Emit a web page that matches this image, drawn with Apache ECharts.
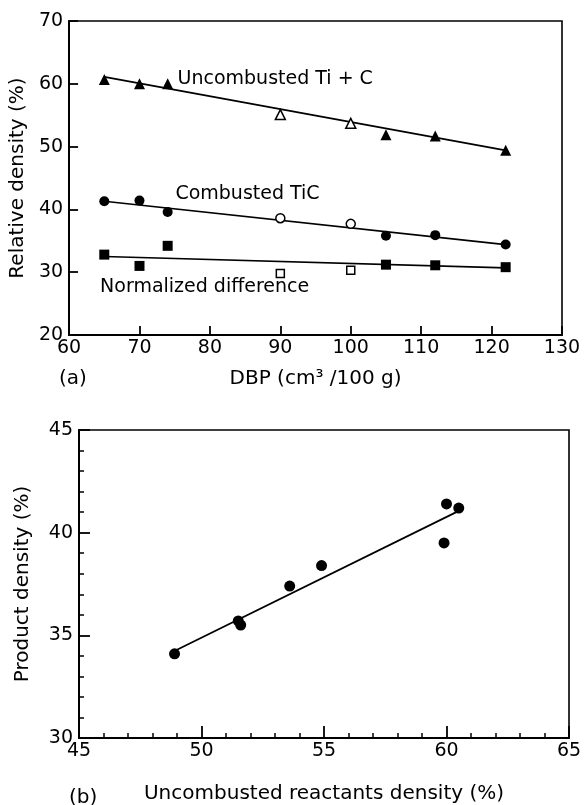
<!DOCTYPE html>
<html>
<head>
<meta charset="utf-8">
<script src="https://cdn.jsdelivr.net/npm/echarts@6/dist/echarts.min.js"></script>
<style>
  html, body { margin: 0; padding: 0; background: #fff; }
  #chart { width: 586px; height: 805px; }
</style>
</head>
<body>
<div id="chart"></div>
<script>
// (a) relative density vs DBP
var dbp = [65, 70, 74, 90, 100, 105, 112, 122];
var uncombusted = [60.7, 60.0, 60.0, 55.1, 53.7, 51.9, 51.7, 49.4];
var combusted = [41.3, 41.4, 39.6, 38.6, 37.7, 35.8, 35.9, 34.4];
var normalized = [32.8, 31.0, 34.2, 29.8, 30.3, 31.2, 31.1, 30.8];
var openDbp = [90, 100];           // points drawn with hollow symbols
var fitDbp = [65, 122];
var uncombustedFit = [61.1, 49.4];
var combustedFit = [41.3, 34.4];
var normalizedFit = [32.5, 30.7];
var noteText = ['Uncombusted Ti + C', 'Combusted TiC', 'Normalized difference'];
var noteX = [75.4, 75.1, 64.4];
var noteY = [60.8, 42.4, 27.7];
var ticksA_x = [60, 70, 80, 90, 100, 110, 120, 130];
var ticksA_y = [20, 30, 40, 50, 60, 70];

// (b) product density vs uncombusted reactants density
var reactants = [48.9, 51.5, 51.6, 53.6, 54.9, 60.0, 60.5, 59.9];
var product = [34.1, 35.7, 35.5, 37.4, 38.4, 41.4, 41.2, 39.5];
var fitReactants = [49.0, 60.4];
var fitProduct = [34.3, 41.0];
var ticksB_x = [45, 50, 55, 60, 65];
var ticksB_y = [30, 35, 40, 45];

var ink = '#000';
var font = 'DejaVu Sans';

function pairs(xs, ys, keep) {
    var out = [];
    for (var i = 0; i < xs.length; i++) {
        if (!keep || keep(xs[i])) out.push([xs[i], ys[i]]);
    }
    return out;
}
function isOpen(x) { return openDbp.indexOf(x) >= 0; }
function isFilled(x) { return openDbp.indexOf(x) < 0; }

function markers(xs, ys, symbol, size, open) {
    return {
        type: 'scatter',
        xAxisIndex: 0, yAxisIndex: 0,
        symbol: symbol,
        symbolSize: size,
        z: 5,
        data: pairs(xs, ys, open ? isOpen : isFilled),
        itemStyle: open
            ? {color: '#fff', borderColor: ink, borderWidth: 1.5, opacity: 1}
            : {color: ink, opacity: 1}
    };
}
function fit(xs, ys, gi) {
    return {
        type: 'line',
        xAxisIndex: gi, yAxisIndex: gi,
        data: pairs(xs, ys),
        symbol: 'none',
        z: 3,
        lineStyle: {color: ink, width: 1.7}
    };
}

function axis(gi, min, max, step, ticks, name, gap, isY, minor, tickLen) {
    return {
        type: 'value',
        gridIndex: gi,
        min: min, max: max, interval: step,
        name: name,
        nameLocation: 'middle',
        nameGap: gap,
        nameTextStyle: {color: ink, fontSize: 20, fontFamily: font},
        axisLine: {show: true, lineStyle: {color: ink, width: 2}},
        axisTick: {show: true, inside: true, length: tickLen, lineStyle: {color: ink, width: 1.8}},
        minorTick: {show: minor, splitNumber: 5, length: 5, lineStyle: {color: ink, width: 1.5}},
        splitLine: {show: false},
        axisLabel: {
            color: ink, fontSize: 19, fontFamily: font, margin: isY ? 6 : 4,
            formatter: function(v) { return ticks.indexOf(v) >= 0 ? String(v) : ''; }
        }
    };
}

var chart = echarts.init(document.getElementById('chart'), null, {renderer: 'canvas'});

var option = {
    backgroundColor: '#fff',
    animation: false,
    grid: [
        {left: 69, top: 21, width: 493, height: 314, show: true, borderColor: ink, borderWidth: 1.6},
        {left: 79, top: 430, width: 490, height: 313, show: true, borderColor: ink, borderWidth: 1.6}
    ],
    xAxis: [
        axis(0, 60, 130, 10, ticksA_x, 'DBP (cm³ /100 g)', 34, false, false, 9),
        axis(1, 45, 65, 5, ticksB_x, 'Uncombusted reactants density (%)', 46, false, true, 12)
    ],
    yAxis: [
        axis(0, 20, 70, 10, ticksA_y, 'Relative density (%)', 33, true, false, 9),
        axis(1, 30, 45, 5, ticksB_y, 'Product density (%)', 46, true, true, 11)
    ],
    graphic: [
        {type: 'text', left: 59, top: 369, style: {text: '(a)', fill: ink, font: '20px "' + font + '"'}},
        {type: 'text', left: 69, top: 788, style: {text: '(b)', fill: ink, font: '20px "' + font + '"'}}
    ],
    series: [
        fit(fitDbp, uncombustedFit, 0),
        fit(fitDbp, combustedFit, 0),
        fit(fitDbp, normalizedFit, 0),
        markers(dbp, uncombusted, 'triangle', 11, false),
        markers(dbp, uncombusted, 'triangle', 10, true),
        markers(dbp, combusted, 'circle', 10, false),
        markers(dbp, combusted, 'circle', 9, true),
        markers(dbp, normalized, 'rect', 10, false),
        markers(dbp, normalized, 'rect', 8, true),
        {
            type: 'scatter',
            xAxisIndex: 0, yAxisIndex: 0,
            symbolSize: 0,
            silent: true,
            itemStyle: {opacity: 1},
            data: noteX.map(function(x, i) { return {value: [x, noteY[i]], name: noteText[i]}; }),
            label: {
                show: true, position: 'right', distance: 0, opacity: 1,
                formatter: '{b}', color: ink, fontSize: 19, fontFamily: font
            }
        },
        fit(fitReactants, fitProduct, 1),
        {
            type: 'scatter',
            xAxisIndex: 1, yAxisIndex: 1,
            symbol: 'circle',
            symbolSize: 11,
            z: 5,
            data: pairs(reactants, product),
            itemStyle: {color: ink, opacity: 1}
        }
    ]
};

chart.setOption(option);
</script>
</body>
</html>
